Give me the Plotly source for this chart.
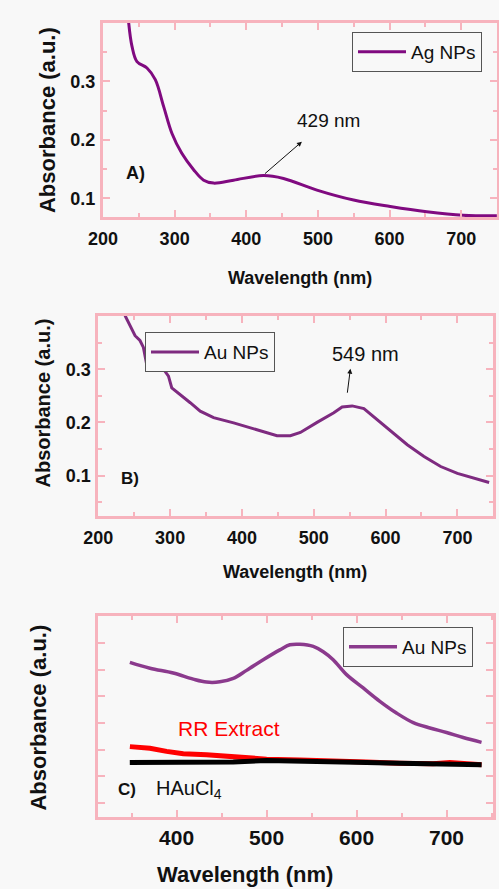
import plotly.graph_objects as go

# ---------------- data ----------------
# Panel A: Ag NPs
a_wl = [235.8, 240.5, 247.4, 261.4, 273, 284.7, 296.3, 310, 326.5, 340.5, 354.4, 382.3,
        424, 452, 498.6, 549.8, 601, 652, 703, 749.8]
a_abs = [0.401, 0.36, 0.334, 0.323, 0.303, 0.257, 0.211, 0.177, 0.149, 0.131, 0.126, 0.131,
         0.139, 0.134, 0.114, 0.097, 0.086, 0.077, 0.071, 0.070]

# Panel B: Au NPs
b_wl = [237.2, 244.2, 251.2, 258, 262.8, 267.4, 276.7, 290.7, 297.7, 302.3, 314, 328, 341.9,
        360.5, 388.4, 411.6, 434.9, 448.8, 467.4, 481.4, 504.6, 527.9, 539.5, 553.5, 569.8,
        588.4, 607, 630.2, 653.5, 676.7, 700, 723.3, 744.2]
b_abs = [0.401, 0.382, 0.363, 0.354, 0.341, 0.309, 0.306, 0.300, 0.287, 0.265, 0.253, 0.237,
         0.221, 0.209, 0.199, 0.190, 0.180, 0.175, 0.175, 0.181, 0.200, 0.218, 0.229, 0.231,
         0.226, 0.205, 0.183, 0.158, 0.136, 0.117, 0.104, 0.095, 0.087]

# Panel C: Au NPs, RR extract, HAuCl4 (arbitrary units)
c_wl = [348.1, 370.4, 396.3, 418.5, 433.3, 448.1, 463, 477.8, 496.3, 514.8, 525.9, 537,
        551.9, 563, 574, 588.9, 607.4, 625.9, 644.4, 663, 681.5, 700, 718.5, 738.9]
c_au = [0.264, 0.253, 0.244, 0.2325, 0.227, 0.2275, 0.234, 0.249, 0.269, 0.2875, 0.297, 0.298,
        0.294, 0.284, 0.269, 0.241, 0.216, 0.191, 0.169, 0.151, 0.141, 0.1325, 0.123, 0.114]
rr_wl = [348.1, 370.4, 388.9, 407.4, 433.3, 463, 500, 537, 574, 611, 648, 685, 703.7, 722, 738.9]
rr_abs = [0.106, 0.103, 0.097, 0.0925, 0.0906, 0.086, 0.0825, 0.081, 0.080, 0.077, 0.075,
          0.074, 0.076, 0.073, 0.072]
h_wl = [348, 389, 426, 463, 500, 537, 574, 611, 648, 685, 739]
h_abs = [0.076, 0.076, 0.076, 0.077, 0.080, 0.0794, 0.078, 0.076, 0.075, 0.074, 0.072]

x_ticks_ab = [200, 300, 400, 500, 600, 700]
x_ticks_c = [400, 500, 600, 700]
y_ticks_ab = [0.1, 0.2, 0.3]

# ---------------- style ----------------
PINK = "#f7b3bd"
BG = "#f8f8f8"
SANS = "Liberation Sans, Arial, sans-serif"
INK = "#111111"

fig = go.Figure()

fig.add_trace(go.Scatter(x=a_wl, y=a_abs, mode="lines", name="Ag NPs", line=dict(color="#800a80", width=3, shape="spline"),
                         xaxis="x", yaxis="y", legend="legend"))
fig.add_trace(go.Scatter(x=b_wl, y=b_abs, mode="lines", name="Au NPs", line=dict(color="#7e2b80", width=3),
                         xaxis="x2", yaxis="y2", legend="legend2"))
fig.add_trace(go.Scatter(x=rr_wl, y=rr_abs, mode="lines", name="RR Extract", line=dict(color="#ff0000", width=5),
                         xaxis="x3", yaxis="y3", showlegend=False))
fig.add_trace(go.Scatter(x=h_wl, y=h_abs, mode="lines", name="HAuCl4", line=dict(color="#000000", width=5),
                         xaxis="x3", yaxis="y3", showlegend=False))
fig.add_trace(go.Scatter(x=c_wl, y=c_au, mode="lines", name="Au NPs", line=dict(color="#8b3a8d", width=3.5, shape="spline"),
                         xaxis="x3", yaxis="y3", legend="legend3"))


def xaxis(domain, rng, tickvals, font, anchor, standoff):
    return dict(domain=domain, range=rng, tickvals=tickvals, ticktext=[str(v) for v in tickvals],
                showline=True, linecolor=PINK, linewidth=3, mirror="ticks", ticks="inside",
                ticklen=7, tickwidth=2, tickcolor=PINK, showgrid=False, zeroline=False, automargin=False,
                minor=dict(ticks="inside", ticklen=4, tickwidth=2, tickcolor=PINK, dtick=50, showgrid=False),
                tickfont=font, anchor=anchor, ticklabelstandoff=standoff)


def yaxis(domain, rng, tickvals, font, anchor, standoff):
    return dict(domain=domain, range=rng, tickvals=tickvals, ticktext=[f"{v:.1f}" for v in tickvals],
                showline=True, linecolor=PINK, linewidth=3, mirror="ticks", ticks="inside",
                ticklen=7, tickwidth=2, tickcolor=PINK, showgrid=False, zeroline=False, automargin=False,
                minor=dict(ticks="inside", ticklen=4, tickwidth=2, tickcolor=PINK, dtick=0.05, showgrid=False),
                tickfont=font, anchor=anchor, ticklabelstandoff=standoff)


f_ab_ticks = dict(family=SANS, size=18, color=INK, weight="bold")
f_c_ticks = dict(family=SANS, size=21, color=INK, weight="bold")

legend_common = dict(xanchor="left", yanchor="top", bgcolor=BG, bordercolor="#555555",
                     borderwidth=1, itemwidth=48)

fig.update_layout(
    width=499, height=889, margin=dict(l=0, r=0, t=0, b=0, autoexpand=False),
    paper_bgcolor=BG, plot_bgcolor=BG, showlegend=True,
    xaxis=xaxis([0.2064, 0.996], [200, 750], x_ticks_ab, f_ab_ticks, "y", 3),
    yaxis=yaxis([0.7559, 0.9741], [0.068, 0.40], y_ticks_ab, f_ab_ticks, "x", 1),
    xaxis2=xaxis([0.197, 0.9886], [200, 750], x_ticks_ab, f_ab_ticks, "y2", 3),
    yaxis2=yaxis([0.4196, 0.6445], [0.024, 0.40], y_ticks_ab, f_ab_ticks, "x2", 1),
    xaxis3=xaxis([0.197, 0.9886], [313, 752], x_ticks_c, f_c_ticks, "y3", 0),
    yaxis3=dict(domain=[0.081, 0.3071], range=[-0.026, 0.351], tickvals=[0, 0.05, 0.1, 0.15, 0.2, 0.25, 0.3],
                showticklabels=False, showline=True, linecolor=PINK, linewidth=3, mirror="ticks",
                ticks="inside", ticklen=7, tickwidth=2, tickcolor=PINK, showgrid=False, zeroline=False,
                automargin=False, anchor="x3"),
    legend=dict(x=0.7054, y=0.964, font=dict(family=SANS, size=19, color=INK), **legend_common),
    legend2=dict(x=0.2906, y=0.6265, font=dict(family=SANS, size=19, color=INK), **legend_common),
    legend3=dict(x=0.6874, y=0.2947, font=dict(family=SANS, size=19, color=INK), **legend_common),
)

ann = []


def txt(text, xref, yref, x, y, size, bold=False, color=INK, angle=0, xanchor="center"):
    f = dict(family=SANS, size=size, color=color)
    if bold:
        f["weight"] = "bold"
    ann.append(dict(text=text, xref=xref, yref=yref, x=x, y=y, textangle=angle, showarrow=False,
                    xanchor=xanchor, yanchor="middle", font=f))


# axis titles
txt("Absorbance (a.u.)", "paper", "paper", 0.0942, 0.865, 22, True, angle=-90)
txt("Wavelength (nm)", "paper", "paper", 0.601, 0.6873, 18, True)
txt("Absorbance (a.u.)", "paper", "paper", 0.0862, 0.5461, 20, True, angle=-90)
txt("Wavelength (nm)", "paper", "paper", 0.591, 0.3566, 18, True)
txt("Absorbance (a.u.)", "paper", "paper", 0.0762, 0.1929, 22, True, angle=-90)
txt("Wavelength (nm)", "paper", "paper", 0.491, 0.01575, 22, True)

# panel letters
txt("A)", "x", "y", 245, 0.143, 18, True)
txt("B)", "x2", "y2", 244, 0.095, 17, True)
txt("C)", "x3", "y3", 344.4, 0.025, 17, True)

# peak markers
txt("429 nm", "x", "y", 515, 0.234, 19)
ann.append(dict(text="", xref="x", yref="y", x=477.7, y=0.197, ax=424, ay=0.140, axref="x", ayref="y",
                showarrow=True, arrowhead=2, arrowsize=1, arrowwidth=1, arrowcolor=INK))
txt("549 nm", "x2", "y2", 572, 0.328, 20)
ann.append(dict(text="", xref="x2", yref="y2", x=551, y=0.301, ax=546.5, ay=0.253, axref="x2", ayref="y2",
                showarrow=True, arrowhead=2, arrowsize=1, arrowwidth=1, arrowcolor=INK))

# panel C labels
txt("RR Extract", "x3", "y3", 458.5, 0.1406, 21, color="#ff0000")
txt("HAuCl<sub>4</sub>", "x3", "y3", 375, 0.025, 20, xanchor="left")

fig.update_layout(annotations=ann)
fig.write_html("out.html")
